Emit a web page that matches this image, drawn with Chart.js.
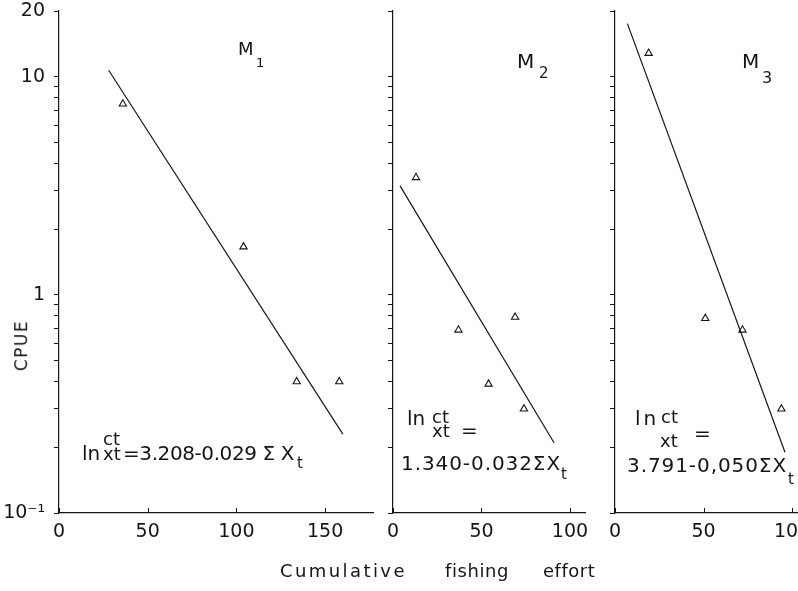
<!DOCTYPE html>
<html>
<head>
<title>CPUE vs cumulative fishing effort</title>
<script src="https://cdn.jsdelivr.net/npm/chart.js"></script>
<style>
    body {
        margin: 0;
        width: 798px;
        height: 591px;
        overflow: hidden;
        position: relative;
        background: #fff;
        color: #151515;
        font-family: "DejaVu Sans", sans-serif;
    }
    canvas { position: absolute; top: 0; }
    .t { position: absolute; white-space: nowrap; line-height: 1; }
</style>
</head>
<body>
<canvas id="m1" width="400" height="591" style="left:0px"></canvas>
<canvas id="m2" width="239" height="591" style="left:373px"></canvas>
<canvas id="m3" width="229" height="591" style="left:595px"></canvas>

<script>
// y axis (log) ticks and their labels
const yTicks = [0.1, 0.2, 0.3, 0.4, 0.5, 0.6, 0.7, 0.8, 0.9, 1, 2, 3, 4, 5, 6, 7, 8, 9, 10, 20];
const yLabels = { 0.1: '10⁻¹', 1: '1', 10: '10', 20: '20' };

// M1
const m1Effort = [36, 104, 134, 158];
const m1Cpue = [7.5, 1.66, 0.40, 0.40];
const m1FitEffort = [28, 160];
const m1FitCpue = [10.7, 0.23];
const m1Ticks = [0, 50, 100, 150];

// M2
const m2Effort = [13, 37, 54, 69, 74];
const m2Cpue = [3.45, 0.69, 0.39, 0.79, 0.30];
const m2FitEffort = [4, 91];
const m2FitCpue = [3.16, 0.21];
const m2Ticks = [0, 50, 100];

// M3
const m3Effort = [19, 51, 72, 94];
const m3Cpue = [12.8, 0.78, 0.69, 0.30];
const m3FitEffort = [7, 96];
const m3FitCpue = [17.5, 0.19];
const m3Ticks = [0, 50, 100];

Chart.defaults.font.family = '"DejaVu Sans", sans-serif';
Chart.defaults.color = '#151515';

const ink = '#151515';

// x ticks point up into the plot
const innerTicks = {
    id: 'innerTicks',
    afterDraw(chart) {
        const { ctx, chartArea } = chart;
        const x = chart.scales.x;
        ctx.save();
        ctx.strokeStyle = ink;
        ctx.lineWidth = 1;
        x.ticks.forEach(t => {
            const px = Math.round(x.getPixelForValue(t.value)) + 0.5;
            ctx.beginPath();
            ctx.moveTo(px, chartArea.bottom);
            ctx.lineTo(px, chartArea.bottom - 5);
            ctx.stroke();
        });
        ctx.restore();
    }
};

function pairs(xs, ys) {
    return xs.map((v, i) => ({ x: v, y: ys[i] }));
}

function makePanel(id, effort, cpue, fitX, fitY, xMax, xTicks, axisWidth, showLabels) {
    return new Chart(document.getElementById(id), {
        type: 'scatter',
        data: {
            datasets: [{
                data: pairs(effort, cpue),
                pointStyle: 'triangle',
                pointRadius: 4.2,
                borderColor: ink,
                backgroundColor: 'rgba(0,0,0,0)',
                borderWidth: 1.1
            }, {
                type: 'line',
                data: pairs(fitX, fitY),
                borderColor: ink,
                borderWidth: 1.2,
                pointRadius: 0,
                fill: false
            }]
        },
        options: {
            responsive: false,
            animation: false,
            layout: { padding: { top: 11, right: 27, left: 0, bottom: 0 } },
            plugins: { legend: { display: false }, tooltip: { enabled: false } },
            scales: {
                x: {
                    type: 'linear',
                    min: 0,
                    max: xMax,
                    afterBuildTicks: s => { s.ticks = xTicks.map(v => ({ value: v })); },
                    afterFit: s => { s.height = 78; s.paddingLeft = 0; s.paddingRight = 0; },
                    grid: { drawOnChartArea: false, drawTicks: false },
                    border: { color: ink, width: 1.2 },
                    ticks: { font: { size: 19 }, padding: 8, autoSkip: false, maxRotation: 0 }
                },
                y: {
                    type: 'logarithmic',
                    min: 0.1,
                    max: 20,
                    afterBuildTicks: s => { s.ticks = yTicks.map(v => ({ value: v })); },
                    afterFit: s => { s.width = axisWidth; s.paddingTop = 0; s.paddingBottom = 0; },
                    grid: { drawOnChartArea: false, drawTicks: true, tickLength: 5, color: ink },
                    border: { color: ink, width: 1.2 },
                    ticks: {
                        autoSkip: false,
                        font: { size: 19 },
                        padding: 9,
                        callback: v => showLabels ? (yLabels[v] || '') : ''
                    }
                }
            }
        },
        plugins: [innerTicks]
    });
}

makePanel('m1', m1Effort, m1Cpue, m1FitEffort, m1FitCpue, 177, m1Ticks, 59, true);
makePanel('m2', m2Effort, m2Cpue, m2FitEffort, m2FitCpue, 108.5, m2Ticks, 20, false);
makePanel('m3', m3Effort, m3Cpue, m3FitEffort, m3FitCpue, 102.8, m3Ticks, 20, false);

// text placed by baseline; optional width stretches the letter spacing
function put(html, left, base, size, width, extra) {
    const d = document.createElement('div');
    d.className = 't';
    d.innerHTML = html;
    d.style.left = left + 'px';
    d.style.top = (base - 0.846 * size) + 'px';
    d.style.fontSize = size + 'px';
    if (extra) Object.assign(d.style, extra);
    document.body.appendChild(d);
    if (width) {
        const n = d.textContent.length;
        const gap = (width - d.getBoundingClientRect().width) / n;
        d.style.letterSpacing = gap.toFixed(2) + 'px';
    }
    return d;
}

// panel names
put('M', 238, 55, 18); put('1', 256, 67, 13);
put('M', 517, 68, 20); put('2', 539, 79, 15);
put('M', 742, 68, 20); put('3', 762, 84, 16);

// equations
put('ln', 82, 460, 20);
put('ct', 103, 445, 18);
put('xt', 103, 460, 18);
put('=3.208-0.029 Σ X', 123, 460, 20, 171);
put('t', 297, 469, 15);

put('ln', 407, 425, 20);
put('ct', 432, 423, 18);
put('xt', 432, 437, 18);
put('=', 461, 437, 20);
put('1.340-0.032ΣX', 401, 470, 20, 160);
put('t', 561, 480, 15);

put('ln', 635, 425, 20, 0, { letterSpacing: '3px' });
put('ct', 661, 423, 18);
put('xt', 660, 447, 18);
put('=', 694, 440, 20);
put('3.791-0,050ΣX', 627, 472, 20, 160);
put('t', 788, 485, 15);

// axis titles
put('Cumulative', 280, 577, 18, 127);
put('fishing', 445, 577, 18, 64);
put('effort', 543, 577, 18, 52);
const yt = put('CPUE', 0, 0, 17, 0, { letterSpacing: '1.5px' });
yt.style.left = '-4px';
yt.style.top = '337px';
yt.style.transform = 'rotate(-90deg)';
</script>
</body>
</html>
